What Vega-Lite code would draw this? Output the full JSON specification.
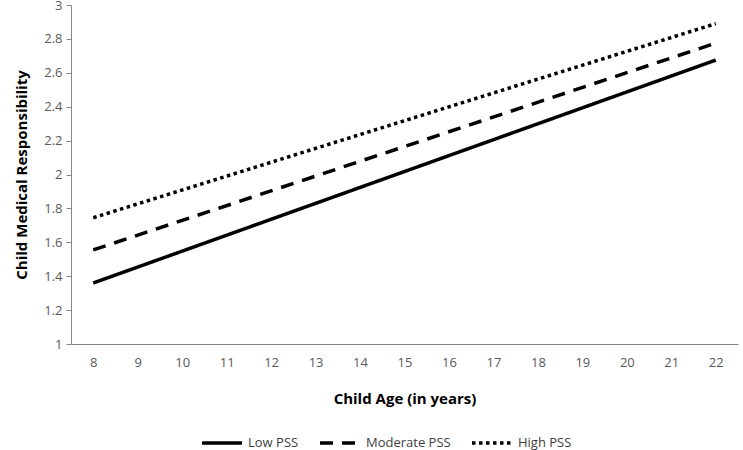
{
  "$schema": "https://vega.github.io/schema/vega-lite/v6.json",
  "width": 667,
  "height": 339,
  "autosize": {"type": "none"},
  "padding": {"left": 71, "top": 5, "right": 5, "bottom": 106},
  "background": "white",
  "config": {
    "view": {"stroke": null},
    "font": "Open Sans",
    "axis": {"grid": false, "domainColor": "#868686", "tickColor": "#868686", "labelColor": "#595959", "labelFont": "Open Sans", "labelFontSize": 13, "titleFont": "Open Sans", "titleFontSize": 15, "titleFontWeight": "bold", "titleColor": "#000000"}
  },
  "data": {
    "values": [
      {"age": 8, "y": 1.36, "group": "Low PSS"},
      {"age": 22, "y": 2.675, "group": "Low PSS"},
      {"age": 8, "y": 1.555, "group": "Moderate PSS"},
      {"age": 22, "y": 2.775, "group": "Moderate PSS"},
      {"age": 8, "y": 1.745, "group": "High PSS"},
      {"age": 22, "y": 2.89, "group": "High PSS"}
    ]
  },
  "mark": {"type": "line", "color": "#000000", "strokeWidth": 3.5, "strokeCap": "butt"},
  "encoding": {
    "x": {
      "field": "age", "type": "quantitative",
      "scale": {"domain": [7.5, 22.5], "nice": false, "zero": false},
      "axis": {"values": [8,9,10,11,12,13,14,15,16,17,18,19,20,21,22], "ticks": false, "labelPadding": 12, "title": "Child Age (in years)", "titlePadding": 22}
    },
    "y": {
      "field": "y", "type": "quantitative",
      "scale": {"domain": [1, 3], "nice": false, "zero": false},
      "axis": {"values": [1,1.2,1.4,1.6,1.8,2,2.2,2.4,2.6,2.8,3], "format": ".1~f", "tickSize": 5, "labelPadding": 4, "title": "Child Medical Responsibility", "titlePadding": 14}
    },
    "strokeDash": {
      "field": "group", "type": "nominal",
      "scale": {"domain": ["Low PSS", "Moderate PSS", "High PSS"], "range": [[1, 0], [13, 9], [3.5, 3.5]]},
      "legend": {"title": null, "orient": "none", "direction": "horizontal", "legendX": 129, "legendY": 416, "symbolType": "stroke", "symbolSize": 1600, "symbolStrokeWidth": 3.5, "symbolStrokeColor": "#000000", "labelFont": "Open Sans", "labelFontSize": 13, "labelColor": "#404040", "columnPadding": 14, "labelOffset": 4}
    },
    "detail": {"field": "group"}
  }
}
